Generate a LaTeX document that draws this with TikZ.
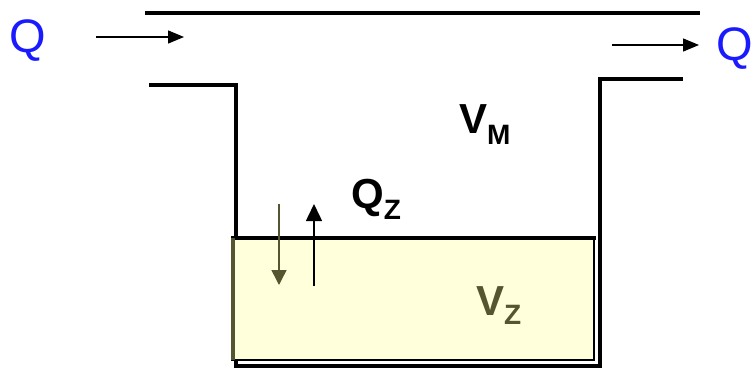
\documentclass[tikz,border=0pt]{standalone}
\usepackage{fontspec}
\setmainfont{Liberation Sans}
\usetikzlibrary{arrows.meta}
\definecolor{olive}{HTML}{55552F}
\definecolor{paleyellow}{HTML}{FFFFDC}
\definecolor{qblue}{HTML}{1A1AFF}
\tikzset{
  wall/.style={line width=4.5pt, line cap=rect},
  flow/.style={line width=1.5pt, -{Triangle[length=16pt,width=13pt]}},
  big/.style={inner sep=0pt, font=\fontsize{42}{42}\selectfont\bfseries},
  qlabel/.style={inner sep=0pt, text=qblue, font=\fontsize{47}{47}\selectfont},
}
\newcommand{\subtxt}[2]{\raisebox{-#1}{\fontsize{28}{28}\selectfont\bfseries #2}}
\begin{document}
\begin{tikzpicture}[x=1pt,y=-1pt]
\useasboundingbox (0,0) rectangle (756,369);
% top line
\draw[wall] (147,13) -- (698,13);
% container
\draw[wall, line join=miter, line cap=butt] (149,85) -- (236,85) -- (236,366) -- (600,366) -- (600,79) -- (683,79);
% sediment layer
\draw[fill=paleyellow, line width=2.5pt] (232,238) rectangle (594,360);
\draw[line width=4.5pt] (231,238) -- (596,238);
\draw[olive, line width=4.5pt] (233,238) -- (233,360);
% inflow / outflow
\node[qlabel, anchor=base west] (qin) at (9,53) {Q};
\coordinate (a1s) at (96,37);
\coordinate (a1e) at (184,37);
\draw[flow] (a1s) -- (a1e);
\coordinate (a2s) at (612,45);
\coordinate (a2e) at (699,45);
\draw[flow] (a2s) -- (a2e);
\node[qlabel, anchor=base west] (qout) at (716,61) {Q};
% labels
\node[big, anchor=base west] (vm) at (459,133) {V\subtxt{11pt}{M}};
\node[big, anchor=base west] (qz) at (351,208) {Q\subtxt{11pt}{Z}};
\node[big, anchor=base west, text=olive] (vz) at (476,315) {V\subtxt{9pt}{Z}};
% exchange arrows
\coordinate (d1s) at (279,204);
\coordinate (d1e) at (279,285);
\draw[flow, olive, -{Triangle[length=15pt,width=15pt]}] (d1s) -- (d1e);
\coordinate (u1s) at (314,286);
\coordinate (u1e) at (314,204);
\draw[flow, -{Triangle[length=17pt,width=16pt]}] (u1s) -- (u1e);
\end{tikzpicture}
\end{document}
